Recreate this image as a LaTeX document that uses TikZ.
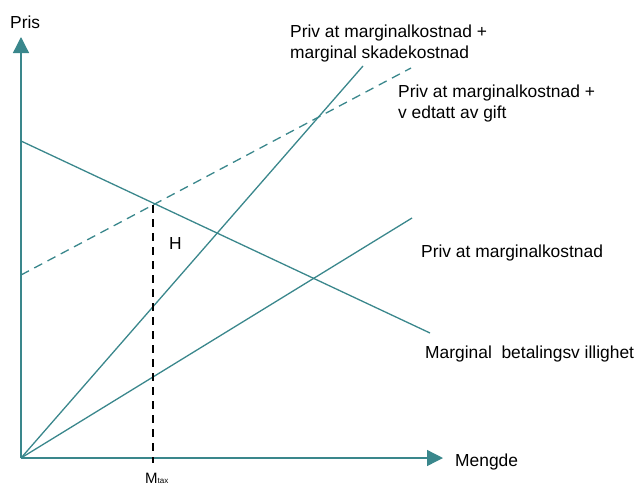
\documentclass[tikz,border=0pt]{standalone}
\usepackage{fontspec}
\setmainfont{Liberation Sans}
\usetikzlibrary{arrows.meta}
\definecolor{teal1}{RGB}{58,135,140}
\begin{document}
\begin{tikzpicture}[x=1pt,y=-1pt,
  curve/.style={draw=teal1,line width=1.3pt},
  axis/.style={draw=teal1,line width=1.3pt,-{Triangle[length=16pt,width=16pt]}},
  lbl/.style={font=\fontsize{17.4}{21}\selectfont,inner sep=0pt,align=left,anchor=base west},
  guide/.style={draw=black,line width=1.6pt,dash pattern=on 8pt off 6pt}]
\useasboundingbox (0,0) rectangle (637,485);
\coordinate (O) at (21,458);
\coordinate (ytip) at (21,37);
\coordinate (xtip) at (443,458);
\coordinate (d0) at (21,141);
\coordinate (d1) at (430,333);
\coordinate (p1) at (412,218);
\coordinate (s1) at (363,66);
\coordinate (t0) at (21,275);
\coordinate (t1) at (411,68);
\coordinate (mt) at (153,205);
\coordinate (mb) at (153,463);
\draw[axis] (O) -- (ytip);
\draw[axis] (O) -- (xtip);
\draw[curve] (d0) -- (d1);
\draw[curve] (O) -- (p1);
\draw[curve] (O) -- (s1);
\draw[curve,dash pattern=on 9pt off 6pt] (t0) -- (t1);
\draw[guide] (mt) -- (mb);
\node[lbl] (pris) at (10,28) {Pris};
\node[lbl] (mengde) at (455,466) {Mengde};
\node[lbl] (lsk) at (290,58) {Priv at marginalkostnad +\\marginal skadekostnad};
\node[lbl] (lav) at (398,118) {Priv at marginalkostnad +\\v edtatt av gift};
\node[lbl] (lpm) at (421,257) {Priv at marginalkostnad};
\node[lbl] (lbv) at (425,358) {Marginal \ betalingsv illighet};
\node[lbl] (h) at (169,249) {H};
\node[lbl,font=\fontsize{15}{18}\selectfont] (mtax) at (145,483) {M{\fontsize{8}{8}\selectfont tax}};
\end{tikzpicture}
\end{document}
